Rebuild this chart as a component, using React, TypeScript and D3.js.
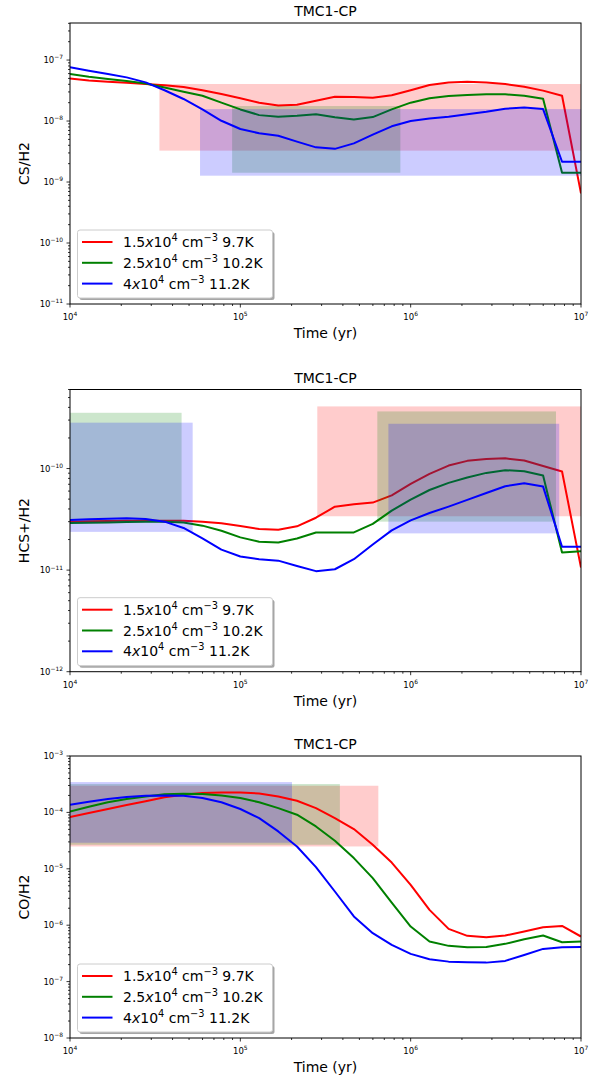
import React, { useRef, useEffect } from 'react';
import * as d3 from 'd3';

// model output times (yr)
const times = [
  1e4, 1.29e4, 1.67e4, 2.15e4, 2.78e4, 3.59e4, 4.64e4, 5.99e4, 7.74e4,
  1e5, 1.29e5, 1.67e5, 2.15e5, 2.78e5, 3.59e5, 4.64e5, 5.99e5, 7.74e5,
  1e6, 1.29e6, 1.67e6, 2.15e6, 2.78e6, 3.59e6, 4.64e6, 5.99e6, 7.74e6, 1e7,
];

// CS/H2
const csRed = [
  5.0e-8, 4.6e-8, 4.4e-8, 4.25e-8, 4.05e-8, 3.85e-8, 3.6e-8, 3.2e-8, 2.77e-8,
  2.36e-8, 2.0e-8, 1.8e-8, 1.85e-8, 2.15e-8, 2.5e-8, 2.47e-8, 2.41e-8, 2.64e-8,
  3.2e-8, 3.9e-8, 4.3e-8, 4.4e-8, 4.3e-8, 4.05e-8, 3.65e-8, 3.15e-8, 2.6e-8, 6.5e-10,
];
const csGreen = [
  5.9e-8, 5.33e-8, 4.89e-8, 4.53e-8, 4.14e-8, 3.56e-8, 3.03e-8, 2.6e-8, 2.0e-8,
  1.55e-8, 1.25e-8, 1.18e-8, 1.22e-8, 1.29e-8, 1.15e-8, 1.06e-8, 1.16e-8, 1.55e-8,
  2.0e-8, 2.36e-8, 2.57e-8, 2.67e-8, 2.74e-8, 2.74e-8, 2.6e-8, 2.32e-8, 1.42e-9, 1.42e-9,
];
const csBlue = [
  7.6e-8, 6.7e-8, 5.9e-8, 5.2e-8, 4.3e-8, 3.2e-8, 2.3e-8, 1.55e-8, 1.01e-8,
  7.4e-9, 6.3e-9, 5.75e-9, 4.6e-9, 3.7e-9, 3.5e-9, 4.3e-9, 5.97e-9, 8.2e-9,
  1.0e-8, 1.1e-8, 1.18e-8, 1.29e-8, 1.42e-8, 1.59e-8, 1.67e-8, 1.57e-8, 2.15e-9, 2.15e-9,
];

// HCS+/H2
const hcsRed = [
  3.0e-11, 3.02e-11, 3.04e-11, 3.07e-11, 3.07e-11, 3.07e-11, 3.07e-11, 3.0e-11, 2.89e-11,
  2.72e-11, 2.54e-11, 2.5e-11, 2.7e-11, 3.28e-11, 4.21e-11, 4.45e-11, 4.62e-11, 5.45e-11,
  7.06e-11, 8.85e-11, 1.07e-10, 1.19e-10, 1.24e-10, 1.26e-10, 1.2e-10, 1.06e-10, 9.34e-11, 1.06e-11,
];
const hcsGreen = [
  2.91e-11, 2.93e-11, 2.95e-11, 2.97e-11, 3.0e-11, 3.0e-11, 2.95e-11, 2.74e-11, 2.44e-11,
  2.1e-11, 1.9e-11, 1.87e-11, 2.05e-11, 2.35e-11, 2.35e-11, 2.35e-11, 2.85e-11, 3.85e-11,
  4.95e-11, 6.15e-11, 7.22e-11, 8.15e-11, 9.06e-11, 9.63e-11, 9.41e-11, 8.53e-11, 1.49e-11, 1.53e-11,
];
const hcsBlue = [
  3.11e-11, 3.16e-11, 3.21e-11, 3.24e-11, 3.18e-11, 3.0e-11, 2.6e-11, 2.05e-11, 1.59e-11,
  1.36e-11, 1.28e-11, 1.24e-11, 1.1e-11, 9.77e-12, 1.02e-11, 1.28e-11, 1.79e-11, 2.46e-11,
  3.09e-11, 3.65e-11, 4.22e-11, 4.91e-11, 5.75e-11, 6.7e-11, 7.16e-11, 6.64e-11, 1.7e-11, 1.7e-11,
];

// CO/H2
const coRed = [
  8.27e-5, 9.73e-5, 1.15e-4, 1.35e-4, 1.57e-4, 1.85e-4, 2.06e-4, 2.2e-4, 2.26e-4,
  2.26e-4, 2.17e-4, 1.92e-4, 1.61e-4, 1.19e-4, 7.93e-5, 5.06e-5, 2.67e-5, 1.29e-5,
  5.19e-6, 1.87e-6, 8.6e-7, 6.47e-7, 6.12e-7, 6.56e-7, 7.73e-7, 9.2e-7, 9.72e-7, 6.3e-7,
];
const coGreen = [
  1.04e-4, 1.26e-4, 1.51e-4, 1.73e-4, 1.92e-4, 2.09e-4, 2.14e-4, 2.12e-4, 2.0e-4,
  1.8e-4, 1.51e-4, 1.19e-4, 9.1e-5, 5.64e-5, 3.14e-5, 1.55e-5, 6.83e-6, 2.52e-6,
  9.46e-7, 5.13e-7, 4.3e-7, 4.07e-7, 4.12e-7, 4.67e-7, 5.64e-7, 6.56e-7, 4.99e-7, 5.13e-7,
];
const coBlue = [
  1.37e-4, 1.55e-4, 1.73e-4, 1.87e-4, 1.98e-4, 2.0e-4, 1.98e-4, 1.8e-4, 1.51e-4,
  1.15e-4, 7.93e-5, 4.6e-5, 2.49e-5, 1.07e-5, 3.96e-6, 1.43e-6, 7.21e-7, 4.48e-7,
  3.1e-7, 2.49e-7, 2.26e-7, 2.2e-7, 2.17e-7, 2.33e-7, 2.97e-7, 3.8e-7, 4.07e-7, 4.12e-7,
];

// observed ranges: [tStart, tEnd, low, high]
const csRedBoxes = [[3.35e4, 1e7, 3.27e-9, 4.05e-8]];
const csGreenBoxes = [[8.95e4, 8.7e5, 1.42e-9, 1.76e-8]];
const csBlueBoxes = [[5.8e4, 1e7, 1.27e-9, 1.57e-8]];

const hcsRedBoxes = [[2.83e5, 1e7, 3.39e-11, 4.09e-10]];
const hcsGreenBoxes = [
  [1e4, 4.52e4, 3.0e-11, 3.54e-10],
  [6.37e5, 7.13e6, 3.0e-11, 3.65e-10],
];
const hcsBlueBoxes = [
  [1e4, 5.25e4, 2.38e-11, 2.83e-10],
  [7.4e5, 7.45e6, 2.3e-11, 2.76e-10],
];

const coRedBoxes = [[1e4, 6.46e5, 2.49e-5, 2.97e-4]];
const coGreenBoxes = [[1e4, 3.84e5, 2.67e-5, 3.18e-4]];
const coBlueBoxes = [[1e4, 2.01e5, 2.9e-5, 3.45e-4]];

const densities = ['1.5', '2.5', '4'];
const temperatures = ['9.7K', '10.2K', '11.2K'];
const colors = ['#ff0000', '#008000', '#0000ff'];

const title = 'TMC1-CP';
const yLabels = ['CS/H2', 'HCS+/H2', 'CO/H2'];
const yDomains = [[1e-11, 4.05e-7], [1e-12, 6e-10], [1e-8, 1e-3]];
const xTickExps = [4, 5, 6, 7];

const FONT = '"DejaVu Sans", sans-serif';

type Part = { t: string; sup?: boolean; it?: boolean };

const mathText = (
  sel: d3.Selection<SVGTextElement, unknown, null, undefined>,
  parts: Part[],
  size: number
) => {
  const raise = size * 0.42;
  let up = false;
  parts.forEach(p => {
    const ts = sel.append('tspan').text(p.t);
    if (p.sup && !up) { ts.attr('dy', -raise); up = true; }
    else if (!p.sup && up) { ts.attr('dy', raise); up = false; }
    if (p.sup) ts.attr('font-size', size * 0.7);
    if (p.it) ts.attr('font-style', 'italic');
  });
};

const expStr = (e: number) => (e < 0 ? `\u2212${-e}` : `${e}`);

const App: React.FC = () => {
  const svgRef = useRef<SVGSVGElement>(null);

  useEffect(() => {
    if (!svgRef.current) return;
    const svg = d3.select(svgRef.current);
    svg.selectAll('*').remove();

    const left = 70;
    const right = 581;
    const tops = [23, 389.5, 756];
    const bottoms = [304, 671.7, 1038];

    const panels = [
      { series: [csRed, csGreen, csBlue], boxes: [csRedBoxes, csGreenBoxes, csBlueBoxes], boxesFirst: false },
      { series: [hcsRed, hcsGreen, hcsBlue], boxes: [hcsRedBoxes, hcsGreenBoxes, hcsBlueBoxes], boxesFirst: false },
      { series: [coRed, coGreen, coBlue], boxes: [coRedBoxes, coGreenBoxes, coBlueBoxes], boxesFirst: true },
    ];

    const x = d3.scaleLog().domain([1e4, 1e7]).range([left, right]);
    const defs = svg.append('defs');

    panels.forEach((p, i) => {
      const top = tops[i];
      const bottom = bottoms[i];
      const y = d3.scaleLog().domain(yDomains[i]).range([bottom, top]);
      const g = svg.append('g').attr('font-family', FONT);

      defs.append('clipPath').attr('id', `clip${i}`)
        .append('rect')
        .attr('x', left).attr('y', top)
        .attr('width', right - left).attr('height', bottom - top);

      const plot = g.append('g').attr('clip-path', `url(#clip${i})`);

      const line = d3.line<number>()
        .x((_, j) => x(times[j]))
        .y(d => y(d));

      const drawLine = (k: number) => {
        plot.append('path')
          .datum(p.series[k])
          .attr('d', line)
          .attr('fill', 'none')
          .attr('stroke', colors[k])
          .attr('stroke-width', 2)
          .attr('stroke-linejoin', 'round');
      };
      const drawBoxes = (k: number) => {
        p.boxes[k].forEach(b => {
          plot.append('rect')
            .attr('x', x(b[0]))
            .attr('y', y(b[3]))
            .attr('width', x(b[1]) - x(b[0]))
            .attr('height', y(b[2]) - y(b[3]))
            .attr('fill', colors[k])
            .attr('fill-opacity', 0.2);
        });
      };

      if (p.boxesFirst) {
        [0, 1, 2].forEach(drawBoxes);
        [0, 1, 2].forEach(drawLine);
      } else {
        [0, 1, 2].forEach(k => { drawLine(k); drawBoxes(k); });
      }

      // frame
      g.append('rect')
        .attr('x', left).attr('y', top)
        .attr('width', right - left).attr('height', bottom - top)
        .attr('fill', 'none').attr('stroke', '#000').attr('stroke-width', 1);

      // x ticks
      const xMinor: number[] = [];
      for (let e = 4; e < 7; e++) for (let m = 2; m <= 9; m++) xMinor.push(m * 10 ** e);
      xMinor.forEach(v => {
        g.append('line').attr('x1', x(v)).attr('x2', x(v))
          .attr('y1', bottom).attr('y2', bottom + 2)
          .attr('stroke', '#000').attr('stroke-width', 0.8);
      });
      xTickExps.forEach(e => {
        const v = 10 ** e;
        g.append('line').attr('x1', x(v)).attr('x2', x(v))
          .attr('y1', bottom).attr('y2', bottom + 3.5)
          .attr('stroke', '#000').attr('stroke-width', 0.8);
        const t = g.append('text')
          .attr('x', x(v)).attr('y', bottom + 16)
          .attr('text-anchor', 'middle')
          .attr('font-size', 8.5).attr('fill', '#000');
        mathText(t, [{ t: '10' }, { t: expStr(e), sup: true }], 8.5);
      });

      // y ticks
      const [y0, y1] = yDomains[i];
      const eLo = Math.floor(Math.log10(y0));
      const eHi = Math.ceil(Math.log10(y1));
      for (let e = eLo; e <= eHi; e++) {
        for (let m = 1; m <= 9; m++) {
          const v = m * 10 ** e;
          if (v < y0 * 0.999 || v > y1 * 1.001) continue;
          const major = m === 1;
          g.append('line')
            .attr('x1', left).attr('x2', left - (major ? 3.5 : 2))
            .attr('y1', y(v)).attr('y2', y(v))
            .attr('stroke', '#000').attr('stroke-width', 0.8);
          if (major) {
            const t = g.append('text')
              .attr('x', left - 7).attr('y', y(v) + 3)
              .attr('text-anchor', 'end')
              .attr('font-size', 8.5).attr('fill', '#000');
            mathText(t, [{ t: '10' }, { t: expStr(e), sup: true }], 8.5);
          }
        }
      }

      // labels
      g.append('text')
        .attr('x', (left + right) / 2).attr('y', top - 7)
        .attr('text-anchor', 'middle').attr('font-size', 14)
        .text(title);
      g.append('text')
        .attr('x', (left + right) / 2).attr('y', bottom + 34)
        .attr('text-anchor', 'middle').attr('font-size', 14)
        .text('Time (yr)');
      g.append('text')
        .attr('transform', `translate(28.5, ${(top + bottom) / 2}) rotate(-90)`)
        .attr('text-anchor', 'middle').attr('font-size', 14)
        .text(yLabels[i]);

      // legend
      const lx = 77.5;
      const ly = bottom - 74;
      const lw = 195;
      const lh = 68;
      const legend = g.append('g');
      legend.append('rect')
        .attr('x', lx + 2).attr('y', ly + 2).attr('width', lw).attr('height', lh)
        .attr('rx', 2.5).attr('fill', '#4d4d4d').attr('fill-opacity', 0.5);
      legend.append('rect')
        .attr('x', lx).attr('y', ly).attr('width', lw).attr('height', lh)
        .attr('rx', 2.5).attr('fill', '#fff').attr('stroke', '#cccccc').attr('stroke-width', 1);
      densities.forEach((d, k) => {
        const cy = ly + 12 + k * 20.8;
        legend.append('line')
          .attr('x1', lx + 4.5).attr('x2', lx + 35)
          .attr('y1', cy).attr('y2', cy)
          .attr('stroke', colors[k]).attr('stroke-width', 2);
        const t = legend.append('text')
          .attr('x', lx + 45.5).attr('y', cy + 5)
          .attr('font-size', 14).attr('fill', '#000')
          .style('white-space', 'pre');
        const parts: Part[] = [];
        if (d.length > 1) parts.push({ t: d });
        else parts.push({ t: d });
        parts.push({ t: 'x', it: true }, { t: '10' }, { t: '4', sup: true },
          { t: ' cm' }, { t: '\u22123', sup: true }, { t: ` ${temperatures[k]}` });
        mathText(t, parts, 14);
      });
    });
  }, []);

  return (
    <svg
      ref={svgRef}
      width={602}
      height={1079}
      style={{ position: 'absolute', left: 0, top: 0, background: '#fff' }}
    />
  );
};

export default App;
